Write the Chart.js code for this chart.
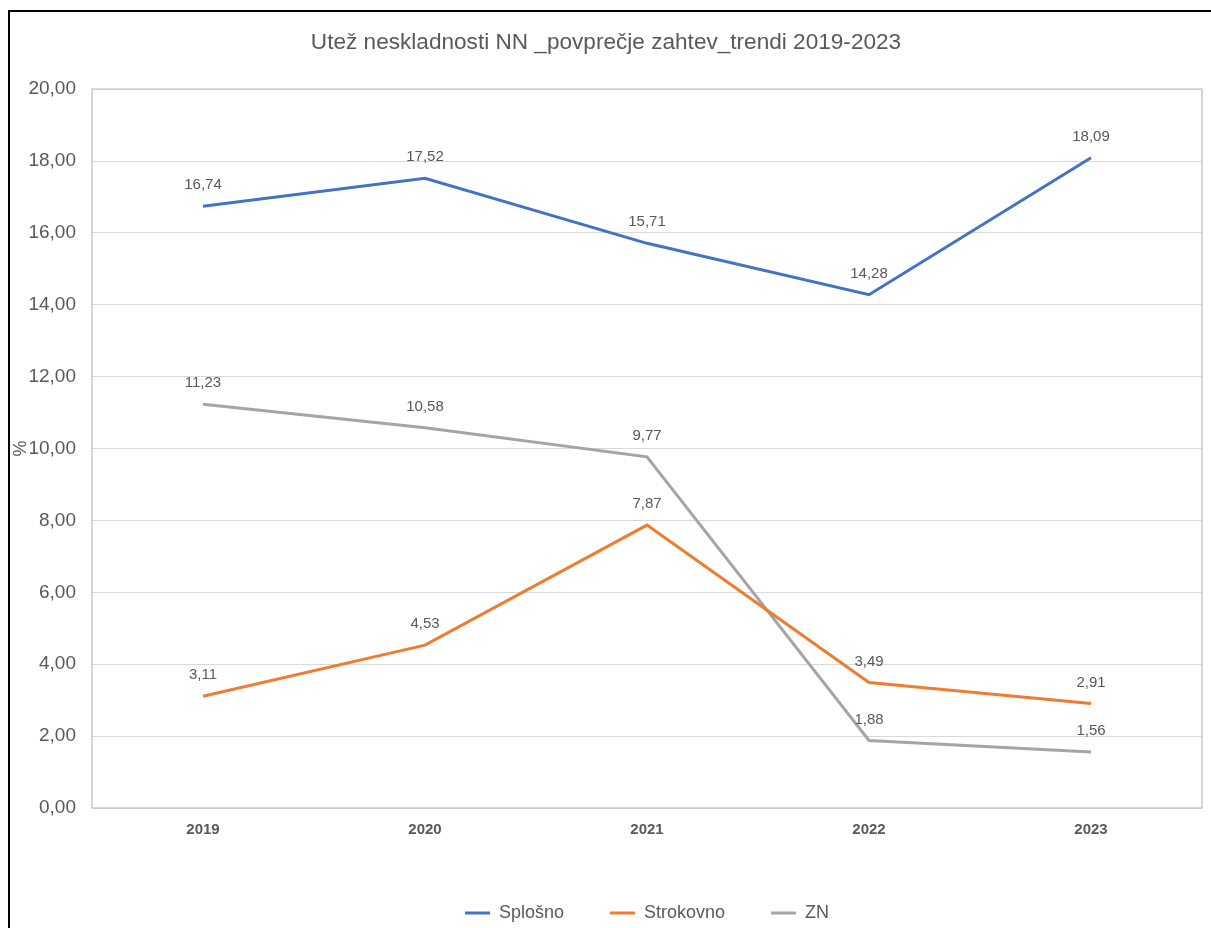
<!DOCTYPE html>
<html>
<head>
<meta charset="utf-8">
<script src="https://cdn.jsdelivr.net/npm/chart.js@4.4.1/dist/chart.umd.min.js"></script>
<style>
  html, body { margin:0; padding:0; background:#fff; overflow:hidden; }
  #frame { position:absolute; left:8px; top:10px; width:1203px; height:918px; border-top:2px solid #000; border-left:2px solid #000; box-sizing:border-box; }
  #wrap { position:absolute; left:0; top:0; width:1201px; height:916px; }
</style>
</head>
<body>
<div id="frame"><div id="wrap"><canvas id="chart"></canvas></div></div>
<script>
// ---- data ----
const years      = ['2019', '2020', '2021', '2022', '2023'];
const splosno    = [16.74, 17.52, 15.71, 14.28, 18.09];
const strokovno  = [3.11, 4.53, 7.87, 3.49, 2.91];
const zn         = [11.23, 10.58, 9.77, 1.88, 1.56];
const seriesNames = ['Splošno', 'Strokovno', 'ZN'];
const seriesColors = ['#4472C4', '#ED7D31', '#A5A5A5'];
const chartTitle = 'Utež neskladnosti NN _povprečje zahtev_trendi 2019-2023';

const fmt = v => v.toFixed(2).replace('.', ',');
const TXT = '#595959';
const FONT = 'Arial, "Liberation Sans", sans-serif';

// value labels above each point + plot frame
const valueLabels = {
  id: 'valueLabels',
  afterDatasetsDraw(chart) {
    const ctx = chart.ctx;
    ctx.save();
    ctx.font = '15px ' + FONT;
    ctx.fillStyle = TXT;
    ctx.textAlign = 'center';
    ctx.textBaseline = 'middle';
    chart.data.datasets.forEach((ds, i) => {
      chart.getDatasetMeta(i).data.forEach((pt, j) => {
        ctx.fillText(fmt(ds.data[j]), pt.x, pt.y - 21);
      });
    });
    ctx.restore();
  },
  beforeDatasetsDraw(chart) {
    const { ctx, chartArea: a } = chart;
    ctx.save();
    ctx.strokeStyle = '#c8c8c8';
    ctx.lineWidth = 1.5;
    ctx.strokeRect(a.left, a.top, a.right - a.left, a.bottom - a.top);
    ctx.restore();
  }
};

const datasets = [splosno, strokovno, zn].map((d, i) => ({
  label: seriesNames[i],
  data: d,
  borderColor: seriesColors[i],
  backgroundColor: seriesColors[i],
  borderWidth: 3,
  pointRadius: 0,
  tension: 0,
}));

new Chart(document.getElementById('chart'), {
  type: 'line',
  data: { labels: years, datasets },
  plugins: [valueLabels],
  options: {
    responsive: true,
    maintainAspectRatio: false,
    animation: false,
    layout: { padding: { left: 0, right: 9, top: 0, bottom: -4 } },
    plugins: {
      title: {
        display: true, text: chartTitle, color: TXT,
        font: { family: FONT, size: 22.6, weight: 'normal' },
        padding: { top: 17, bottom: 33 },
      },
      legend: {
        position: 'bottom',
        fullSize: false,
        labels: {
          color: TXT, font: { family: FONT, size: 18 },
          usePointStyle: true, pointStyle: 'line', pointStyleWidth: 25,
          padding: 46,
        },
      },
      tooltip: { enabled: false },
    },
    scales: {
      x: {
        offset: true,
        grid: { display: false },
        border: { display: false },
        ticks: { color: TXT, font: { family: FONT, size: 15, weight: 'bold' }, padding: 5 },
        afterFit: s => { s.height = 50; },
      },
      y: {
        min: 0, max: 20,
        grid: { color: '#d9d9d9', lineWidth: 1, drawTicks: false },
        border: { display: false },
        ticks: { stepSize: 2, color: TXT, font: { family: FONT, size: 19 }, padding: 16, callback: v => fmt(v) },
        title: { display: true, text: '%', color: TXT, font: { family: FONT, size: 18 }, padding: 0 },
        afterFit: s => { s.width = 82; },
      },
    },
  },
});
</script>
</body>
</html>
